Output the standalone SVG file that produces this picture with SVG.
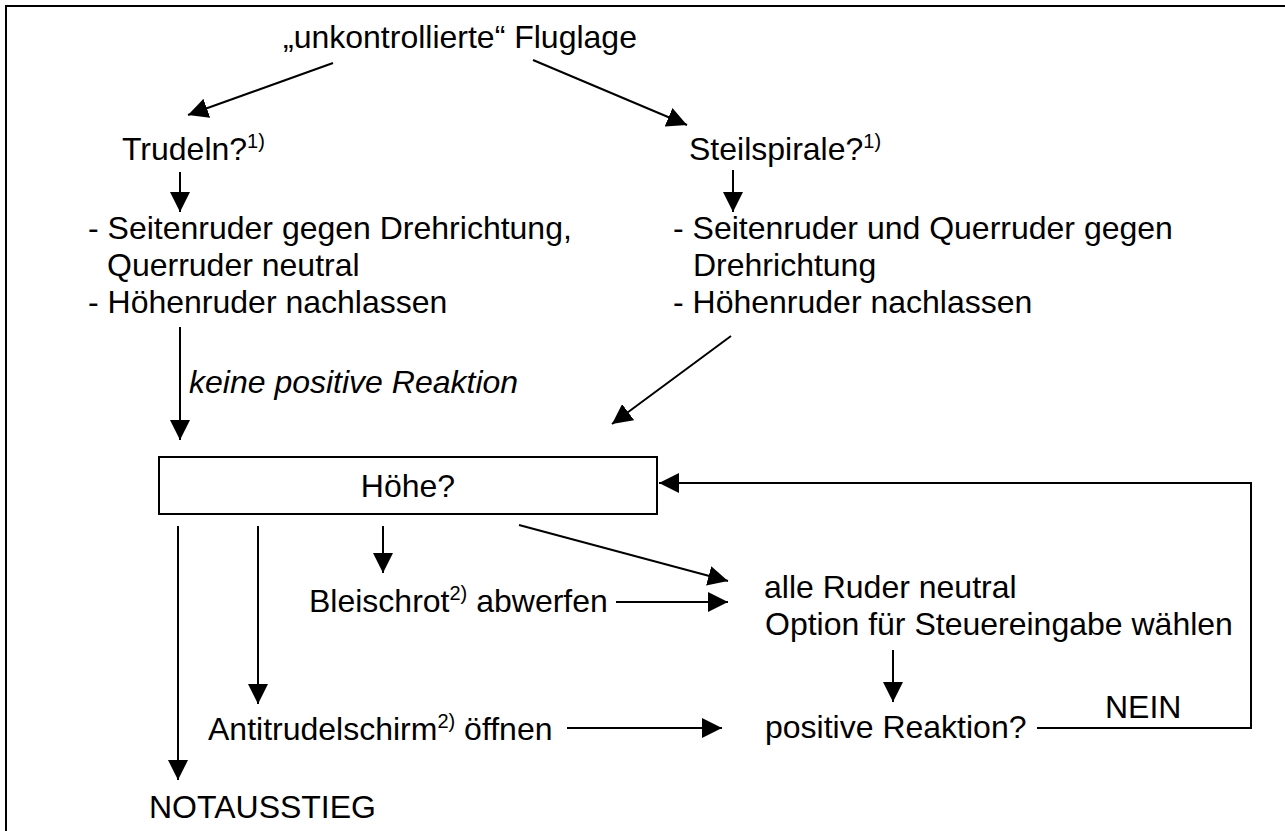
<svg xmlns="http://www.w3.org/2000/svg" width="1285" height="831" viewBox="0 0 1285 831">
<style>
text{font-family:"Liberation Sans",Arial,Helvetica,sans-serif;font-size:32px;fill:#000}
.it{font-style:italic}
.sup{font-size:20px}
.ln{stroke:#000;stroke-width:2;fill:none}
</style>
<defs>
<marker id="ah" markerWidth="20" markerHeight="20" refX="20" refY="10" orient="auto" markerUnits="userSpaceOnUse">
<path d="M0,0 L20,10 L0,20 Z" fill="#000"/>
</marker>
</defs>
<rect width="1285" height="831" fill="#fff"/>
<rect x="6" y="6" width="1300" height="840" fill="none" stroke="#000" stroke-width="2"/>
<g id="connectors">
<line class="ln" x1="333" y1="63" x2="188" y2="115" marker-end="url(#ah)"/>
<line class="ln" x1="533" y1="60" x2="687" y2="125" marker-end="url(#ah)"/>
<line class="ln" x1="180" y1="172" x2="180" y2="212" marker-end="url(#ah)"/>
<line class="ln" x1="733" y1="170" x2="733" y2="212" marker-end="url(#ah)"/>
<line class="ln" x1="180" y1="327" x2="180" y2="440" marker-end="url(#ah)"/>
<line class="ln" x1="731" y1="336" x2="612" y2="424" marker-end="url(#ah)"/>
<polyline class="ln" points="1037,728 1251,728 1251,483 659,483" marker-end="url(#ah)"/>
<line class="ln" x1="178" y1="526" x2="178" y2="780" marker-end="url(#ah)"/>
<line class="ln" x1="258" y1="526" x2="258" y2="704" marker-end="url(#ah)"/>
<line class="ln" x1="383" y1="526" x2="383" y2="573" marker-end="url(#ah)"/>
<line class="ln" x1="519" y1="525" x2="728" y2="581" marker-end="url(#ah)"/>
<line class="ln" x1="616" y1="602" x2="728" y2="602" marker-end="url(#ah)"/>
<line class="ln" x1="893" y1="650" x2="893" y2="702" marker-end="url(#ah)"/>
<line class="ln" x1="567" y1="728" x2="722" y2="728" marker-end="url(#ah)"/>
</g>
<g id="n-title"><text x="283" y="48">„unkontrollierte“ Fluglage</text></g>
<g id="n-trudeln"><text x="122" y="160">Trudeln?<tspan class="sup" dy="-12">1)</tspan></text></g>
<g id="n-steil"><text x="689" y="160">Steilspirale?<tspan class="sup" dy="-12">1)</tspan></text></g>
<g id="n-left">
<text x="88" y="239">- Seitenruder gegen Drehrichtung,</text>
<text x="107" y="276">Querruder neutral</text>
<text x="88" y="313">- Höhenruder nachlassen</text>
</g>
<g id="n-right">
<text x="673" y="239">- Seitenruder und Querruder gegen</text>
<text x="693" y="276">Drehrichtung</text>
<text x="673" y="313">- Höhenruder nachlassen</text>
</g>
<text class="it" x="189" y="393">keine positive Reaktion</text>
<g id="n-hoehe">
<rect x="159" y="457" width="498" height="57" fill="#fff" stroke="#000" stroke-width="2"/>
<text x="408" y="497" text-anchor="middle">Höhe?</text>
</g>
<g id="n-blei"><text x="309" y="612">Bleischrot<tspan class="sup" dy="-12">2)</tspan><tspan dy="12"> abwerfen</tspan></text></g>
<g id="n-alle">
<text x="764" y="598">alle Ruder neutral</text>
<text x="765" y="635">Option für Steuereingabe wählen</text>
</g>
<g id="n-anti"><text x="208" y="740">Antitrudelschirm<tspan class="sup" dy="-12">2)</tspan><tspan dy="12"> öffnen</tspan></text></g>
<g id="n-pos"><text x="765" y="738">positive Reaktion?</text></g>
<text x="1105" y="718">NEIN</text>
<g id="n-not"><text x="149" y="818">NOTAUSSTIEG</text></g>
</svg>
